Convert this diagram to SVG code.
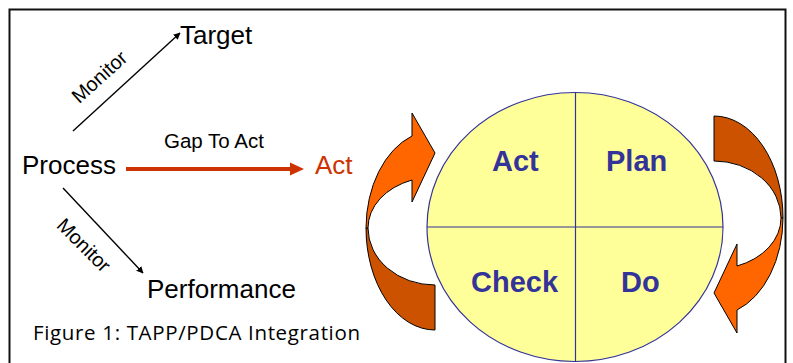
<svg xmlns="http://www.w3.org/2000/svg" xmlns:xlink="http://www.w3.org/1999/xlink" width="793" height="363" viewBox="0 0 793 363">
  <style>
    .lbl { font-family: "Liberation Sans", Arial, sans-serif; fill: #000; }
    .big { font-size: 26px; }
    .small { font-size: 20px; }
    .pdca { font-family: "Liberation Sans", Arial, sans-serif; font-size: 29px; font-weight: bold; fill: #333399; }
    .caption { font-family: "Open Sans", "Liberation Sans", sans-serif; font-size: 20.5px; fill: #000; }
    .thin { stroke: #000; stroke-width: 1.4; fill: none; }
    .front { fill: #FF6600; stroke: #000; stroke-width: 1; stroke-linejoin: round; }
    .back { fill: #CC5200; stroke: #000; stroke-width: 1; stroke-linejoin: round; }
  </style>
  <defs>
    <marker id="tip" viewBox="0 0 10 10" refX="9" refY="5" markerWidth="7" markerHeight="7" markerUnits="userSpaceOnUse" orient="auto">
      <path d="M0,0 L10,5 L0,10 Z" fill="#000"/>
    </marker>
    <!-- curved cycle arrow: dark back band (tail) and orange front band with head -->
    <g id="curl">
      <path class="back" d="M366,228 A69,102 0 0 0 435,330 L435,285 A67,57 0 0 1 368,228 Z"/>
      <path class="front" d="M366,228 A69,98 0 0 1 412,136 L412,113 L435,153 L412,202 L412,180 A67,51 0 0 0 368,228 Z"/>
    </g>
  </defs>

  <rect x="0" y="0" width="793" height="363" fill="#fff"/>
  <!-- frame -->
  <rect x="9.5" y="9.5" width="776" height="400" fill="none" stroke="#111" stroke-width="2"/>

  <g id="connectors">
    <line class="thin" x1="73" y1="131" x2="180" y2="33" marker-end="url(#tip)"/>
    <line class="thin" x1="63" y1="188" x2="143" y2="273" marker-end="url(#tip)"/>
    <line x1="126" y1="169" x2="292" y2="169" stroke="#CC3300" stroke-width="4"/>
    <polygon points="290,162.5 304,169 290,175.5" fill="#CC3300"/>
    <text class="lbl small" transform="translate(104,82) rotate(-42)" text-anchor="middle">Monitor</text>
    <text class="lbl small" transform="translate(79,250) rotate(45)" text-anchor="middle">Monitor</text>
    <text class="lbl" x="164" y="148" font-size="20.5">Gap To Act</text>
  </g>

  <g id="target"><text class="lbl big" x="180" y="44">Target</text></g>
  <g id="process"><text class="lbl big" x="22" y="174">Process</text></g>
  <g id="act"><text class="lbl big" x="315" y="174" style="fill:#CC3300">Act</text></g>
  <g id="performance"><text class="lbl big" x="147" y="298">Performance</text></g>

  <g id="cycle-left"><use xlink:href="#curl"/></g>
  <g id="cycle-right"><use xlink:href="#curl" transform="rotate(180 574.5 223)"/></g>

  <g id="pdca">
    <ellipse cx="575" cy="227" rx="148" ry="134.5" fill="#FFFF99" stroke="#333399" stroke-width="1.2"/>
    <line x1="575.5" y1="92.5" x2="575.5" y2="361.5" stroke="#333399" stroke-width="1.2"/>
    <line x1="427" y1="227" x2="723" y2="227" stroke="#333399" stroke-width="1.2"/>
    <text class="pdca" x="492" y="171">Act</text>
    <text class="pdca" x="606" y="171">Plan</text>
    <text class="pdca" x="471" y="292">Check</text>
    <text class="pdca" x="621" y="292">Do</text>
  </g>

  <g id="caption"><text class="caption" x="33" y="340" textLength="327" lengthAdjust="spacing">Figure 1: TAPP/PDCA Integration</text></g>
</svg>
